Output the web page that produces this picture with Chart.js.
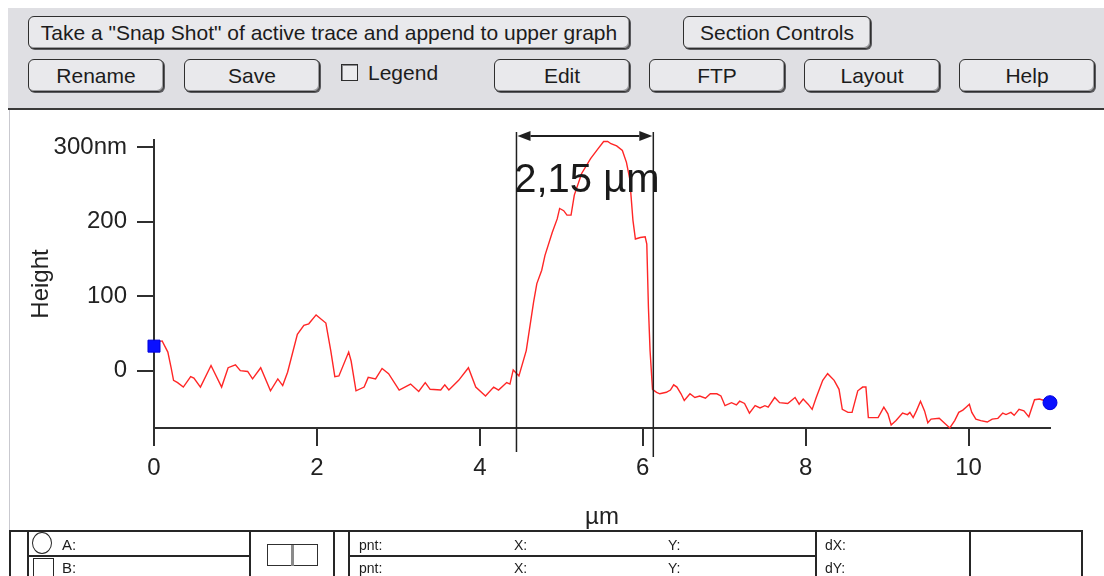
<!DOCTYPE html>
<html>
<head>
<meta charset="utf-8">
<script src="https://cdn.jsdelivr.net/npm/chart.js@4.4.1/dist/chart.umd.min.js"></script>
<style>
  html, body { margin: 0; padding: 0; background: #fff; width: 1104px; height: 576px; overflow: hidden; }
  body { position: relative; font-family: "Liberation Sans", Arial, sans-serif; color: #1c1c1c; }
  .panel { position: absolute; left: 8px; top: 8px; right: 0; height: 100px; background: #dfdfe3; border-bottom: 2px solid #3a3a3a; }
  .btn { position: absolute; height: 31px; background: #e9e9ec; border: 1px solid #2e2e2e; border-radius: 6px;
         box-shadow: inset -1px -1px 0 #9a9a9e, 1px 1px 0 #5a5a5e; font-size: 21px; line-height: 31px; text-align: center; white-space: nowrap; }
  .chk { position: absolute; left: 341px; top: 64px; width: 15px; height: 15px; background: #ececee; border: 1px solid #2e2e2e; box-shadow: inset 1px 1px 0 #8a8a8e; }
  .lbl { position: absolute; font-size: 21px; white-space: nowrap; }
  .edge { position: absolute; left: 9px; top: 110px; width: 1px; height: 420px; background: #c9c9cf; }
  #plot { position: absolute; left: 0; top: 110px; }
  .tbl { position: absolute; left: 0; top: 0; width: 1104px; height: 576px; pointer-events: none; }
  .ln { position: absolute; background: #262626; }
  .t { position: absolute; font-size: 14px; white-space: nowrap; line-height: 16px; }
</style>
</head>
<body>
<div class="panel"></div>
<div class="btn" style="left:28px;top:16px;width:600px;">Take a "Snap Shot" of active trace and append to upper graph</div>
<div class="btn" style="left:683px;top:16px;width:186px;">Section Controls</div>
<div class="btn" style="left:28px;top:59px;width:134px;">Rename</div>
<div class="btn" style="left:184px;top:59px;width:134px;">Save</div>
<div class="chk"></div>
<div class="lbl" style="left:368px;top:61px;">Legend</div>
<div class="btn" style="left:494px;top:59px;width:134px;">Edit</div>
<div class="btn" style="left:649px;top:59px;width:134px;">FTP</div>
<div class="btn" style="left:804px;top:59px;width:134px;">Layout</div>
<div class="btn" style="left:959px;top:59px;width:134px;">Help</div>
<div class="edge"></div>

<canvas id="plot" width="1104" height="426"></canvas>

<div class="tbl">
  <div class="ln" style="left:9px;top:530px;width:1074px;height:2px;"></div>
  <div class="ln" style="left:9px;top:530px;width:2px;height:46px;"></div>
  <div class="ln" style="left:27px;top:530px;width:2px;height:46px;"></div>
  <div class="ln" style="left:249px;top:530px;width:2px;height:46px;"></div>
  <div class="ln" style="left:333px;top:530px;width:2px;height:46px;"></div>
  <div class="ln" style="left:348px;top:530px;width:2px;height:46px;"></div>
  <div class="ln" style="left:815px;top:530px;width:2px;height:46px;"></div>
  <div class="ln" style="left:969px;top:530px;width:2px;height:46px;"></div>
  <div class="ln" style="left:1081px;top:530px;width:2px;height:46px;"></div>
  <div class="ln" style="left:29px;top:555px;width:220px;height:2px;"></div>
  <div class="ln" style="left:350px;top:555px;width:465px;height:2px;"></div>
  <div style="position:absolute;left:32px;top:532px;width:18px;height:20px;border:1.5px solid #262626;border-radius:50%;"></div>
  <div style="position:absolute;left:33px;top:558px;width:19px;height:20px;border:1.5px solid #262626;"></div>
  <div class="t" style="left:62px;top:537px;font-size:15px;">A:</div>
  <div class="t" style="left:62px;top:560px;font-size:15px;">B:</div>
  <div style="position:absolute;left:267px;top:544px;width:49px;height:20px;border:1.5px solid #303030;"></div>
  <div style="position:absolute;left:291px;top:545px;width:3px;height:21px;background:#8a8a8a;"></div>
  <div class="t" style="left:359px;top:537px;">pnt:</div>
  <div class="t" style="left:514px;top:537px;">X:</div>
  <div class="t" style="left:668px;top:537px;">Y:</div>
  <div class="t" style="left:825px;top:537px;">dX:</div>
  <div class="t" style="left:359px;top:560px;">pnt:</div>
  <div class="t" style="left:514px;top:560px;">X:</div>
  <div class="t" style="left:668px;top:560px;">Y:</div>
  <div class="t" style="left:825px;top:560px;">dY:</div>
</div>

<script>
// Height profile along the section line (x in µm, height in nm)
const profileX = [
  0.00, 0.10, 0.17, 0.21, 0.24, 0.29, 0.36, 0.45, 0.49, 0.57, 0.70, 0.83, 0.91, 1.00, 1.06, 1.15, 1.21, 1.31, 1.43, 1.52,
  1.58, 1.64, 1.76, 1.84, 1.90, 1.99, 2.11, 2.17, 2.22, 2.27, 2.39, 2.42, 2.48, 2.58, 2.63, 2.72, 2.80, 2.88, 3.01, 3.15,
  3.25, 3.33, 3.39, 3.52, 3.57, 3.62, 3.74, 3.86, 3.95, 4.07, 4.17, 4.23, 4.33, 4.37, 4.41, 4.48, 4.57, 4.66, 4.70, 4.76,
  4.80, 4.89, 4.95, 4.98, 5.03, 5.07, 5.12, 5.16, 5.25, 5.36, 5.45, 5.52, 5.57, 5.61, 5.68, 5.75, 5.80, 5.84, 5.88, 5.91,
  5.97, 6.03, 6.05, 6.07, 6.09, 6.12, 6.17, 6.21, 6.29, 6.34, 6.38, 6.42, 6.47, 6.51, 6.58, 6.64, 6.70, 6.77, 6.83, 6.91,
  6.96, 7.01, 7.09, 7.15, 7.19, 7.25, 7.31, 7.38, 7.44, 7.50, 7.54, 7.62, 7.68, 7.78, 7.87, 7.92, 7.97, 8.03, 8.08, 8.13,
  8.21, 8.27, 8.35, 8.41, 8.45, 8.52, 8.57, 8.64, 8.70, 8.74, 8.77, 8.81, 8.89, 8.96, 9.01, 9.05, 9.11, 9.19, 9.25, 9.28,
  9.32, 9.36, 9.41, 9.46, 9.50, 9.54, 9.64, 9.70, 9.77, 9.83, 9.88, 9.93, 9.97, 10.01, 10.04, 10.09, 10.15, 10.23, 10.29, 10.36,
  10.42, 10.46, 10.52, 10.56, 10.62, 10.68, 10.74, 10.81, 10.87, 10.93, 11.00
];
const profileHeight = [
  38, 40, 25, 4, -13, -16, -22, -8, -10, -22, 7, -22, 4, 8, 0, -1, -11, 4, -27, -11,
  -20, -2, 49, 61, 63, 75, 64, 27, -8, -7, 25, 13, -27, -22, -9, -11, 3, -4, -26, -18,
  -28, -16, -25, -26, -19, -26, -13, 4, -22, -34, -22, -26, -16, -18, 1, -7, 27, 92, 117, 135,
  155, 186, 204, 218, 215, 209, 209, 236, 265, 285, 298, 308, 308, 305, 302, 296, 280, 258, 202, 177,
  179, 180, 170, 85, 27, -25, -29, -31, -29, -26, -19, -22, -31, -40, -31, -36, -34, -37, -31, -31,
  -34, -47, -43, -46, -41, -44, -57, -47, -50, -47, -49, -36, -43, -44, -36, -45, -38, -45, -52, -36,
  -13, -4, -13, -25, -52, -56, -56, -27, -22, -22, -63, -63, -63, -49, -58, -73, -67, -57, -59, -56,
  -63, -54, -41, -54, -70, -65, -64, -70, -77, -67, -56, -53, -49, -45, -56, -65, -67, -69, -65, -64,
  -57, -59, -56, -60, -52, -54, -62, -39, -38, -40, -43
];

// Measurement cursors: B (square) and A (circle)
const cursorB = { x: 0, y: 33 };
const cursorA = { x: 11, y: -43 };

// Width measurement markers and their caption
const markerX = [4.45, 6.13];
const markerLabel = '2,15 µm';

// Axis ticks
const xTicks = [0, 2, 4, 6, 8, 10];
const yTicks = [0, 100, 200, 300];
const yUnit = 'nm';

const points = profileX.map((x, i) => ({ x, y: profileHeight[i] }));
const axisColor = '#2f2f2f';
const textColor = '#222';
const tickFont = { family: 'Liberation Sans', size: 24 };

const widthMarker = {
  id: 'widthMarker',
  afterDatasetsDraw(chart) {
    const { ctx, chartArea, scales } = chart;
    const xs = markerX.map(v => scales.x.getPixelForValue(v));
    const top = chartArea.top - 8;
    const bottoms = [chartArea.bottom + 24, chartArea.bottom + 29];
    ctx.save();
    ctx.strokeStyle = '#1f1f1f';
    ctx.fillStyle = '#1f1f1f';
    ctx.lineWidth = 1.5;
    xs.forEach((px, i) => {
      ctx.beginPath();
      ctx.moveTo(px, top);
      ctx.lineTo(px, bottoms[i]);
      ctx.stroke();
    });
    const ay = chartArea.top - 4;
    const head = 14, half = 5;
    ctx.beginPath();
    ctx.moveTo(xs[0] + head, ay);
    ctx.lineTo(xs[1] - head, ay);
    ctx.lineWidth = 2;
    ctx.stroke();
    ctx.beginPath();
    ctx.moveTo(xs[0] + 1, ay);
    ctx.lineTo(xs[0] + head, ay - half);
    ctx.lineTo(xs[0] + head, ay + half);
    ctx.closePath();
    ctx.fill();
    ctx.beginPath();
    ctx.moveTo(xs[1] - 1, ay);
    ctx.lineTo(xs[1] - head, ay - half);
    ctx.lineTo(xs[1] - head, ay + half);
    ctx.closePath();
    ctx.fill();
    ctx.font = '40px "Liberation Sans", Arial, sans-serif';
    ctx.textAlign = 'center';
    ctx.textBaseline = 'alphabetic';
    ctx.fillStyle = '#1a1a1a';
    ctx.fillText(markerLabel, (xs[0] + xs[1]) / 2 + 2, chartArea.top + 52);
    ctx.restore();
  }
};

new Chart(document.getElementById('plot'), {
  type: 'line',
  data: {
    datasets: [
      {
        data: points,
        borderColor: '#ff2626',
        borderWidth: 1.4,
        pointRadius: 0,
        tension: 0,
        clip: false,
        order: 2
      },
      {
        data: [cursorB],
        showLine: false,
        pointStyle: 'rect',
        pointRadius: 8.5,
        backgroundColor: '#0a10ff',
        borderColor: '#0000dd',
        borderWidth: 1,
        clip: false,
        order: 1
      },
      {
        data: [cursorA],
        showLine: false,
        pointStyle: 'circle',
        pointRadius: 7,
        backgroundColor: '#0a10ff',
        borderColor: '#0000dd',
        borderWidth: 1,
        clip: false,
        order: 1
      }
    ]
  },
  options: {
    responsive: false,
    animation: false,
    devicePixelRatio: 1,
    layout: { padding: { left: 10, right: 54, top: 30, bottom: 0 } },
    plugins: { legend: { display: false }, tooltip: { enabled: false } },
    scales: {
      x: {
        type: 'linear',
        min: 0,
        max: 11,
        afterBuildTicks: s => { s.ticks = xTicks.map(v => ({ value: v })); },
        afterFit: s => { s.height = 108; },
        grid: { drawOnChartArea: false, drawTicks: true, tickLength: 18, color: axisColor, lineWidth: 2 },
        border: { display: true, color: axisColor, width: 2 },
        ticks: { color: textColor, font: tickFont, padding: 8, maxRotation: 0, autoSkip: false },
        title: { display: true, text: 'µm', color: textColor, font: tickFont, padding: { top: 0, bottom: 4 } }
      },
      y: {
        type: 'linear',
        min: -77,
        max: 310,
        afterBuildTicks: s => { s.ticks = yTicks.map(v => ({ value: v })); },
        afterFit: s => { s.width = 144; },
        grid: { drawOnChartArea: false, drawTicks: true, tickLength: 17, color: axisColor, lineWidth: 2 },
        border: { display: true, color: axisColor, width: 2 },
        ticks: {
          color: textColor, font: tickFont, padding: 10,
          callback: v => (v === yTicks[yTicks.length - 1] ? v + yUnit : String(v))
        },
        title: { display: true, text: 'Height', color: textColor, font: tickFont, padding: { top: 17, bottom: 0 } }
      }
    }
  },
  plugins: [widthMarker]
});
</script>
</body>
</html>
